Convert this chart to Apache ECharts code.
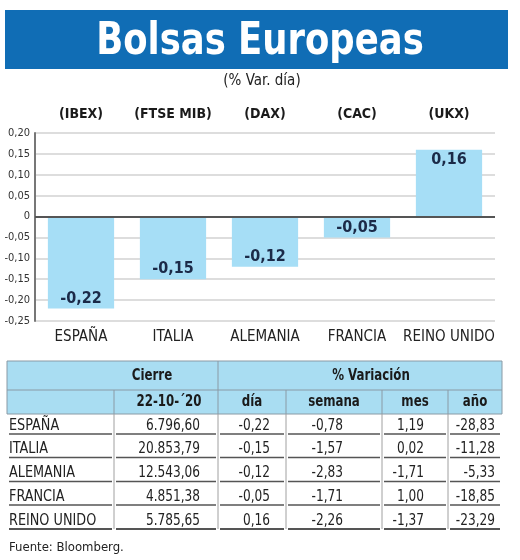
<!DOCTYPE html>
<html><head><meta charset="utf-8">
<script src="https://cdn.jsdelivr.net/npm/echarts@6/dist/echarts.min.js"></script>
<style>html,body{margin:0;padding:0;background:#fff}#c{width:520px;height:560px}</style>
</head><body><div id="c"></div>
<script>
// ---- data ----
const countries = ['ESPAÑA', 'ITALIA', 'ALEMANIA', 'FRANCIA', 'REINO UNIDO'];
const indices = ['(IBEX)', '(FTSE MIB)', '(DAX)', '(CAC)', '(UKX)'];
const dayChange = [-0.22, -0.15, -0.12, -0.05, 0.16];
const cierre = [6796.60, 20853.79, 12543.06, 4851.38, 5785.65];
const weekChange = [-0.78, -1.57, -2.83, -1.71, -2.26];
const monthChange = [1.19, 0.02, -1.71, 1.00, -1.37];
const yearChange = [-28.83, -11.28, -5.33, -18.85, -23.29];
const headerTop = ['Cierre', '% Variación'];
const headerSub = ['22-10-´20', 'día', 'semana', 'mes', 'año'];
const titleText = 'Bolsas Europeas';
const subtitleText = '(% Var. día)';
const sourceText = 'Fuente: Bloomberg.';

// ---- helpers ----
const F = '"DejaVu Sans Condensed","DejaVu Sans",sans-serif';
function fmt(v) {
  const s = Math.abs(v).toFixed(2).split('.');
  const int = s[0].replace(/\B(?=(\d{3})+(?!\d))/g, '.');
  return (v < 0 ? '-' : '') + int + ',' + s[1];
}
function txt(text, x, y, font, align, fill, sx) {
  return { type: 'text', x: x, y: y, scaleX: sx || 1, silent: true,
    style: { text: text, font: font, fill: fill || '#222', align: align || 'left', verticalAlign: 'middle' } };
}
function line(x1, y1, x2, y2, stroke, w) {
  return { type: 'line', silent: true, shape: { x1: x1, y1: y1, x2: x2, y2: y2 },
    style: { stroke: stroke, lineWidth: w } };
}

// ---- graphics: title, subtitle, table ----
const g = [];
g.push({ type: 'rect', silent: true, shape: { x: 5, y: 10, width: 503, height: 59 }, style: { fill: '#106db5' } });
g.push(txt(titleText, 260, 42.5, 'bold 45px ' + F, 'center', '#fff', 0.875));
g.push(txt(subtitleText, 262, 81, '15px ' + F, 'center', '#222'));

const tL = 7, tR = 502, hTop = 361, hMid = 390, hBot = 414;
const colB = [tL, 114, 218, 286, 382, 448, tR];
g.push({ type: 'rect', silent: true, shape: { x: tL, y: hTop, width: tR - tL, height: hBot - hTop }, style: { fill: '#a9ddf2', stroke: '#8a9aa5', lineWidth: 1 } });
g.push(line(tL, hMid, tR, hMid, '#8a9aa5', 1));
g.push(line(218, hTop, 218, hBot, '#8a9aa5', 1));
[114, 286, 382, 448].forEach(x => g.push(line(x, hMid, x, hBot, '#8a9aa5', 1)));
g.push(txt(headerTop[0], 152, 376, 'bold 16px ' + F, 'center', '#1a1a1a', 0.82));
g.push(txt(headerTop[1], 371, 376, 'bold 16px ' + F, 'center', '#1a1a1a', 0.82));
const subX = [169, 252, 334, 415, 475];
headerSub.forEach((h, i) => g.push(txt(h, subX[i], 402, 'bold 16px ' + F, 'center', '#1a1a1a', 0.82)));

const rowLines = [434, 457.5, 481.5, 505, 529];
const rightX = [200, 270, 343, 424, 495];
[114, 218, 286, 382, 448].forEach(x => g.push(line(x, hBot, x, 529, '#a0a0a0', 1)));
countries.forEach((c, r) => {
  const yl = rowLines[r];
  const yt = yl - 8;
  g.push(txt(c, 9, yt, '15px ' + F, 'left', '#222', 0.95));
  const vals = [fmt(cierre[r]), fmt(dayChange[r]), fmt(weekChange[r]), fmt(monthChange[r]), fmt(yearChange[r])];
  vals.forEach((v, i) => g.push(txt(v, rightX[i], yt, '15px ' + F, 'right', '#222', 0.9)));
  for (let k = 0; k < colB.length - 1; k++) {
    g.push(line(colB[k] + 2, yl, colB[k + 1] - 2, yl, '#555', r === 4 ? 2 : 1.3));
  }
});
g.push(txt(sourceText, 9, 548, '13px ' + F, 'left', '#222'));

// ---- chart ----
const chart = echarts.init(document.getElementById('c'), null, { renderer: 'canvas' });
chart.setOption({
  animation: false,
  backgroundColor: '#fff',
  grid: { left: 35, right: 25, top: 133, bottom: 239 },
  xAxis: [
    { type: 'category', data: countries, position: 'bottom',
      axisLine: { show: false, onZero: false }, axisTick: { show: false },
      axisLabel: { fontFamily: F, fontSize: 15, color: '#222', margin: 9, interval: 0 } },
    { type: 'category', data: indices, position: 'top',
      axisLine: { show: false, onZero: false }, axisTick: { show: false },
      axisLabel: { fontFamily: F, fontSize: 14, fontWeight: 'bold', color: '#1a1a1a', margin: 12, interval: 0 } }
  ],
  yAxis: {
    type: 'value', min: -0.25, max: 0.2, interval: 0.05,
    axisLine: { show: true, lineStyle: { color: '#777', width: 2 } },
    axisTick: { show: false },
    splitLine: { lineStyle: { color: '#d2d2d2', width: 1.5 } },
    axisLabel: { fontFamily: F, fontSize: 11, color: '#333', margin: 5,
      formatter: v => Math.abs(v) < 1e-9 ? '0' : v.toFixed(2).replace('.', ',') }
  },
  series: [{
    type: 'bar', xAxisIndex: 0,
    data: dayChange.map(v => ({ value: v, label: { position: v < 0 ? 'insideBottom' : 'insideTop' } })),
    barCategoryGap: '28%',
    itemStyle: { color: '#a6def6' },
    label: { show: true, fontFamily: F, fontSize: 16, fontWeight: 'bold', color: '#1b2a48', distance: 2,
      formatter: p => fmt(p.value) },
    markLine: { silent: true, symbol: 'none', label: { show: false },
      lineStyle: { color: '#555', width: 2, type: 'solid' }, data: [{ yAxis: 0 }] }
  }],
  graphic: g
});
</script></body></html>
